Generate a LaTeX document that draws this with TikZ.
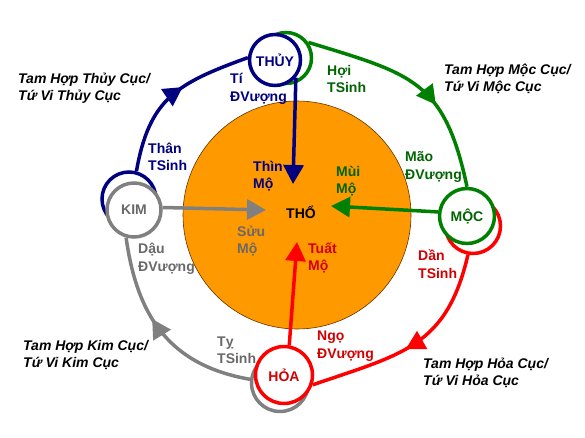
\documentclass[tikz,border=0pt]{standalone}
\usepackage{fontspec}
\setmainfont{Liberation Sans}
\usetikzlibrary{arrows.meta,decorations.markings}
\definecolor{cblue}{RGB}{0,0,128}
\definecolor{cgreen}{RGB}{0,128,0}
\definecolor{cred}{RGB}{255,0,0}
\definecolor{cgray}{RGB}{128,128,128}
\definecolor{corange}{RGB}{255,153,0}
\definecolor{tgreen}{RGB}{0,100,0}
\definecolor{tred}{RGB}{210,0,0}
\definecolor{tgray}{RGB}{105,105,105}
\tikzset{
 elem/.style={circle, draw, line width=3.5pt, fill=white, inner sep=0pt, font=\fontsize{14}{16}\selectfont\bfseries},
 ringc/.style={circle, draw, line width=3.5pt, inner sep=0pt},
 cycarc/.style={line width=3.5pt, postaction={decorate}, decoration={markings, mark=at position #1 with {\arrow{Triangle[length=19pt,width=20pt]}}}},
 cycarc/.default=0.58,
 inarrow/.style={line width=3.5pt, -{Triangle[length=19pt,width=20pt]}},
 lbl/.style={anchor=west, align=left, inner sep=0pt, font=\fontsize{14}{17.5}\selectfont\bfseries},
 cuc/.style={anchor=west, align=left, inner sep=0pt, font=\fontsize{14}{17.5}\selectfont\bfseries\itshape},
}
\begin{document}
\begin{tikzpicture}[x=1pt,y=1pt]
\useasboundingbox[fill=white] (0,0) rectangle (585,-438);
% earth disc
\node[circle, fill=corange, draw=black!60!orange, line width=0.6pt, minimum size=228pt, inner sep=0pt] (earth) at (297,-215) {};
% rings
\node[ringc, draw=cgreen, minimum size=51pt] (thuyring) at (286,-58) {};
\node[ringc, draw=cblue, minimum size=54pt] (kimring) at (129,-199) {};
\node[ringc, draw=cred, minimum size=55pt] (mocring) at (473,-226) {};
\node[ringc, draw=cgray, minimum size=57pt] (hoaring) at (280,-383) {};
% elements
\node[elem, draw=cblue, text=cblue, minimum size=51pt] (thuy) at (275,-60) {THỦY};
\node[elem, draw=cgray, text=tgray, minimum size=54pt] (kim) at (134,-210) {KIM};
\node[elem, draw=cgreen, text=tgreen, minimum size=55pt] (moc) at (467,-216) {MỘC};
\node[elem, draw=cred, text=tred, minimum size=57pt] (hoa) at (284,-375) {HỎA};
% outer cycle arcs
\draw[cycarc=0.58, cblue] (kimring.75) to[out=80,in=200,looseness=1.2] (thuy.175);
\draw[cycarc=0.62, cgreen] (thuyring.35) to[out=-17,in=102,looseness=1.3] (moc.north);
\draw[cycarc=0.54, cred] (mocring.-100) to[out=-103,in=19,looseness=1.2] (hoa.-19);
\draw[cycarc=0.58, cgray] (hoaring.173) to[out=170,in=-82,looseness=1.1] (kim.-106);
% inner arrows
\coordinate (tipthuy) at (293,-184);
\coordinate (tipkim) at (266,-210);
\coordinate (tipmoc) at (331,-206);
\coordinate (tiphoa) at (297,-242);
\draw[inarrow, cblue] (thuy.-40) -- (tipthuy);
\draw[inarrow, cgray] (kim.5) -- (tipkim);
\draw[inarrow, cgreen] (moc.172) -- (tipmoc);
\draw[inarrow, cred] (hoa.80) -- (tiphoa);
% center
\node[font=\fontsize{14}{16}\selectfont\bfseries, inner sep=0pt] (tho) at (301,-212) {THỔ};
% labels
\node[lbl, text=cblue] (lti) at (230,-89) {Tí\\ĐVượng};
\node[lbl, text=cblue] (lthan) at (148,-157) {Thân\\TSinh};
\node[lbl, text=cblue] (lthin) at (253,-176) {Thìn\\Mộ};
\node[lbl, text=tgreen] (lhoi) at (327,-79) {Hợi\\TSinh};
\node[lbl, text=tgreen] (lmao) at (405,-167) {Mão\\ĐVượng};
\node[lbl, text=tgreen] (lmui) at (336,-181) {Mùi\\Mộ};
\node[lbl, text=tgray] (lsuu) at (237,-241) {Sửu\\Mộ};
\node[lbl, text=tgray] (ldau) at (138,-259) {Dậu\\ĐVượng};
\node[lbl, text=tgray] (lty) at (217,-350) {Tỵ\\TSinh};
\node[lbl, text=tred] (ltuat) at (308,-258) {Tuất\\Mộ};
\node[lbl, text=tred] (ldan) at (418,-264) {Dần\\TSinh};
\node[lbl, text=tred] (lngo) at (317,-346) {Ngọ\\ĐVượng};
% tam hop labels
\node[cuc] (cthuy) at (18,-88) {Tam Hợp Thủy Cục/\\Tứ Vi Thủy Cục};
\node[cuc] (cmoc) at (444,-79) {Tam Hợp Mộc Cục/\\Tứ Vi Mộc Cục};
\node[cuc] (ckim) at (23,-355) {Tam Hợp Kim Cục/\\Tứ Vi Kim Cục};
\node[cuc] (choa) at (423,-373) {Tam Hợp Hỏa Cục/\\Tứ Vi Hỏa Cục};
\end{tikzpicture}
\end{document}
